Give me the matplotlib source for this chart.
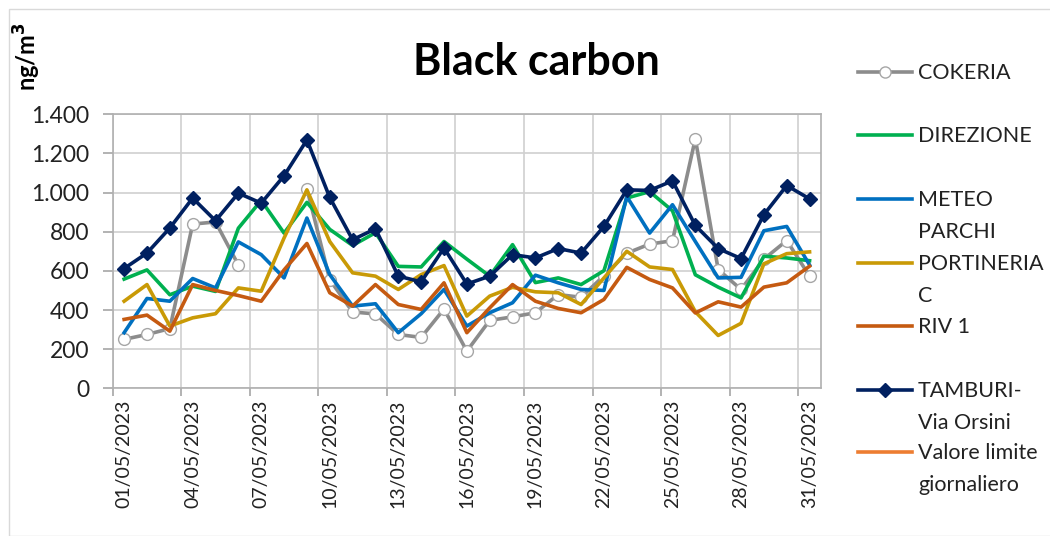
import numpy as np
import matplotlib
matplotlib.use("Agg")
import matplotlib.pyplot as plt
from matplotlib.lines import Line2D
from matplotlib.patches import Rectangle

plt.rcParams['font.family'] = ['Lato', 'DejaVu Sans']

dates = ['01/05/2023', '02/05/2023', '03/05/2023', '04/05/2023', '05/05/2023',
         '06/05/2023', '07/05/2023', '08/05/2023', '09/05/2023', '10/05/2023',
         '11/05/2023', '12/05/2023', '13/05/2023', '14/05/2023', '15/05/2023',
         '16/05/2023', '17/05/2023', '18/05/2023', '19/05/2023', '20/05/2023',
         '21/05/2023', '22/05/2023', '23/05/2023', '24/05/2023', '25/05/2023',
         '26/05/2023', '27/05/2023', '28/05/2023', '29/05/2023', '30/05/2023',
         '31/05/2023']

nan = np.nan
cokeria = [250, 275, 305, 839, 850, 630, nan, nan, 1020, 555, 390, 380, 275, 260, 405,
           190, 347, 365, 386, 479, 465, 575, 690, 737, 754, 1275, 607, 505, 660, 755, 573]
direzione = [558, 605, 478, 522, 495, 818, 960, 793, 950, 812, 730, 795, 623, 620, 750,
             660, 573, 734, 540, 564, 530, 601, 972, 1005, 907, 580, 517, 462, 675, 666, 652]
meteo = [284, 459, 445, 561, 513, 748, 683, 564, 870, 581, 420, 432, 284, 381, 505,
         318, 386, 437, 578, 539, 505, 500, 980, 793, 938, 750, 564, 567, 805, 827, 630]
portineria = [445, 530, 318, 360, 381, 513, 496, 768, 1014, 750, 590, 573, 505, 581, 627,
              369, 471, 516, 493, 488, 428, 564, 700, 620, 607, 391, 270, 332, 636, 688, 697]
riv1 = [352, 374, 292, 530, 500, 474, 445, 605, 740, 488, 420, 530, 428, 403, 539,
        284, 411, 530, 445, 408, 386, 454, 618, 556, 513, 385, 442, 415, 517, 539, 624]
tamburi = [612, 691, 819, 972, 856, 997, 946, 1086, 1269, 975, 759, 815, 573, 544, 717,
           533, 573, 683, 666, 714, 691, 827, 1014, 1011, 1060, 832, 714, 663, 887, 1036, 968]

yticks = [0, 200, 400, 600, 800, 1000, 1200, 1400]
ytick_labels = ['0', '200', '400', '600', '800', '1.000', '1.200', '1.400']

names = ['COKERIA', 'DIREZIONE', 'METEO\nPARCHI', 'PORTINERIA\nC', 'RIV 1',
         'TAMBURI-\nVia Orsini', 'Valore limite\ngiornaliero']

c_cok = '#8C8C8C'
c_dir = '#00B050'
c_met = '#0070C0'
c_por = '#C99A06'
c_riv = '#C55A11'
c_tam = '#002060'
c_lim = '#ED7D31'

W, H = 1050, 536
fig = plt.figure(figsize=(W / 100, H / 100), dpi=100)
ax = fig.add_axes([112.7 / W, 1 - 388.3 / H, (821 - 112.7) / W, (388.3 - 114.3) / H])

x = np.arange(len(dates))
lw = 2.6
ax.plot(x, cokeria, color=c_cok, lw=lw, marker='o', ms=8.5, mfc='white',
        mec='#A6A6A6', mew=1.0, zorder=3)
ax.plot(x, direzione, color=c_dir, lw=lw, zorder=4)
ax.plot(x, meteo, color=c_met, lw=lw, zorder=5)
ax.plot(x, portineria, color=c_por, lw=lw, zorder=6)
ax.plot(x, riv1, color=c_riv, lw=lw, zorder=7)
ax.plot(x, tamburi, color=c_tam, lw=lw, marker='D', ms=7.5, mfc=c_tam, mec=c_tam, zorder=8)

ax.set_xlim(-0.5, len(dates) - 0.5)
ax.set_ylim(0, 1400)
ax.set_yticks(yticks)
ax.set_yticklabels(ytick_labels, fontsize=16.5, color='#222222')

ax.set_xticks(np.arange(-0.5, len(dates) - 1, 3))
ax.set_xticklabels([])
ax.set_xticks(x[::3], minor=True)
ax.set_xticklabels(dates[::3], minor=True, rotation=90, fontsize=14, color='#222222')
ax.tick_params(axis='x', which='major', length=6, color='#A6A6A6', width=1.2)
ax.tick_params(axis='x', which='minor', length=0, pad=8)
ax.tick_params(axis='y', length=7, color='#A6A6A6', width=1.2, pad=10)

ax.grid(True, which='major', color='#D0D0D0', lw=1.2, zorder=0)
for s in ax.spines.values():
    s.set_color('#B0B0B0')
    s.set_linewidth(1.2)

fig.text(536 / W, 1 - 62 / H, 'Black carbon', fontsize=31, fontweight='bold',
         ha='center', va='center')
fig.text(27 / W, 1 - 57 / H, 'ng/m$^\\mathbf{3}$', fontsize=17, fontweight='bold',
         rotation=90, ha='center', va='center')

# legend
handle_y = [72, 135, 199, 263, 326, 390, 452]
colors = [c_cok, c_dir, c_met, c_por, c_riv, c_tam, c_lim]
for i, (nm, yy, col) in enumerate(zip(names, handle_y, colors)):
    yf = 1 - yy / H
    fig.add_artist(Line2D([858 / W, 912 / W], [yf, yf], color=col, lw=2.6))
    if i == 0:
        fig.add_artist(Line2D([885 / W], [yf], marker='o', ms=8, mfc='white',
                              mec='#A6A6A6', mew=1.0, color=col))
    if i == 5:
        fig.add_artist(Line2D([885 / W], [yf], marker='D', ms=7, mfc=col,
                              mec=col, color=col))
    fig.text(918 / W, 1 - (yy - 9) / H, nm, fontsize=15.5, ha='left', va='top',
             color='#222222', linespacing=1.75)

fig.add_artist(Rectangle((9 / W, 0), 1.5, 1 - 9 / H, transform=fig.transFigure,
                         fill=False, ec='#D9D9D9', lw=1.0))

fig.savefig('out.png', dpi=100)
